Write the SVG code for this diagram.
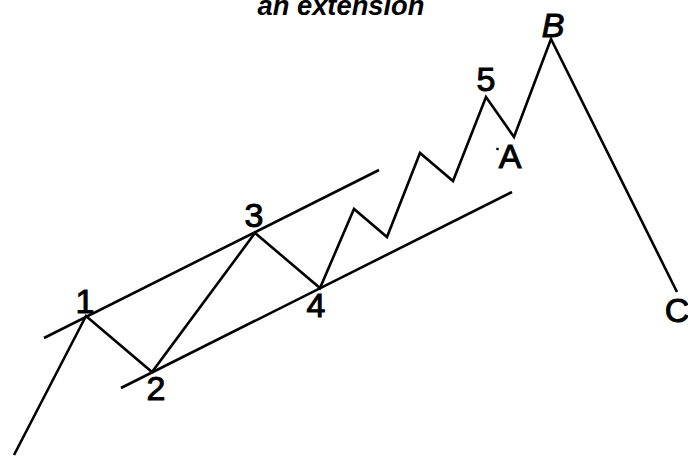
<svg xmlns="http://www.w3.org/2000/svg" width="688" height="457" viewBox="0 0 688 457">
<style>
.ln{fill:none;stroke:#000;stroke-width:2.6;stroke-linejoin:miter;stroke-linecap:butt}
.lb{font-family:"Liberation Sans",Arial,sans-serif;font-size:34px;fill:#000;stroke:#000;stroke-width:1;text-anchor:middle}
.it{font-style:italic}
.title{font-family:"Liberation Sans",Arial,sans-serif;font-size:27px;font-weight:bold;font-style:italic;fill:#000;text-anchor:middle}
</style>
<rect width="688" height="457" fill="#fff"/>
<text class="title" x="341" y="15" textLength="167" lengthAdjust="spacingAndGlyphs">an extension</text>
<g id="connectors">
<line class="ln" x1="44" y1="338" x2="379" y2="170"/>
<line class="ln" x1="121" y1="388" x2="512" y2="192"/>
<polyline class="ln" points="14,455 86,316 152,372 255,233 320,288 354,209 387,237 420,153 453,181 486,97 514,137 551,39 677,292"/>
<line class="ln" x1="497" y1="150" x2="498" y2="148" stroke-width="1.5"/>
</g>
<g id="n1"><text class="lb" x="85" y="313">1</text></g>
<g id="n2"><text class="lb" x="156" y="400">2</text></g>
<g id="n3"><text class="lb" x="254" y="227">3</text></g>
<g id="n4"><text class="lb" x="316" y="317">4</text></g>
<g id="n5"><text class="lb" x="486" y="91">5</text></g>
<g id="nA"><text class="lb" x="510" y="168">A</text></g>
<g id="nB"><text class="lb it" x="553" y="37">B</text></g>
<g id="nC"><text class="lb" x="677" y="322">C</text></g>
</svg>
